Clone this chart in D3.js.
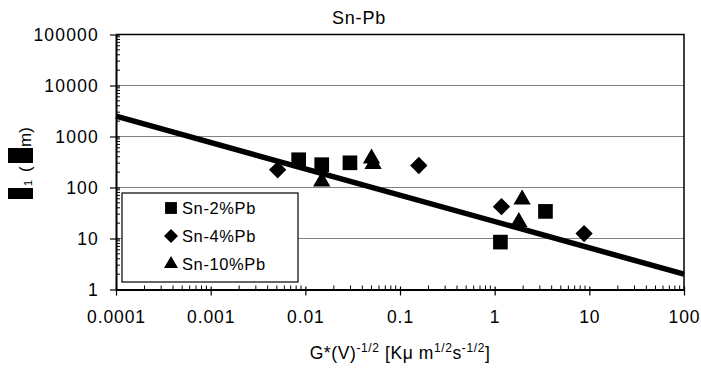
<!DOCTYPE html>
<html>
<head>
<meta charset="utf-8">
<script src="https://cdn.jsdelivr.net/npm/d3@7/dist/d3.min.js"></script>
<style>
	body { margin: 0; background: #fff; }
	svg { font-family: "Liberation Sans", Arial, sans-serif; }
	.axis path, .axis line { stroke: #000; }
</style>
</head>
<body>
<svg id="chart"></svg>
<script>
// tick values
const xTicks = [0.0001, 0.001, 0.01, 0.1, 1, 10, 100]
const yTicks = [1, 10, 100, 1000, 10000, 100000]

// measured points (G*V^-1/2, lambda1)
const sn2 = [
	{x: 0.0085, y: 350}, {x: 0.0149, y: 280}, {x: 0.0296, y: 305},
	{x: 1.15, y: 8.5}, {x: 3.44, y: 34}
]
const sn4 = [
	{x: 0.0051, y: 222}, {x: 0.158, y: 270}, {x: 1.18, y: 42}, {x: 8.8, y: 12.5}
]
const sn10 = [
	{x: 0.0149, y: 131}, {x: 0.05, y: 370}, {x: 0.052, y: 290},
	{x: 1.8, y: 21}, {x: 1.95, y: 58}
]
// fitted trend line
const fit = [{x: 0.0001, y: 2500}, {x: 100, y: 2}]

const diamond = {
	draw(ctx, size) {
		const r = Math.sqrt(size / 2)
		ctx.moveTo(0, -r); ctx.lineTo(r, 0); ctx.lineTo(0, r); ctx.lineTo(-r, 0); ctx.closePath()
	}
}

const series = [
	{name: "Sn-2%Pb", data: sn2, symbol: d3.symbolSquare, size: 215},
	{name: "Sn-4%Pb", data: sn4, symbol: diamond, size: 150},
	{name: "Sn-10%Pb", data: sn10, symbol: d3.symbolTriangle, size: 130},
]

const width = 701, height = 370
const margin = {top: 34.5, right: 17, bottom: 80.5, left: 116}
const plotWidth = width - margin.left - margin.right
const plotHeight = height - margin.top - margin.bottom

const svg = d3.select("#chart").attr("width", width).attr("height", height)

const x = d3.scaleLog().domain([0.0001, 100]).range([0, plotWidth])
const y = d3.scaleLog().domain([1, 100000]).range([plotHeight, 0])

const plot = svg.append("g")
	.attr("transform", "translate(" + margin.left + "," + margin.top + ")")

// gridlines
plot.append("g")
	.selectAll("line")
	.data(yTicks.slice(1, -1))
	.join("line")
	.attr("x1", 0).attr("x2", plotWidth)
	.attr("y1", d => y(d)).attr("y2", d => y(d))
	.attr("stroke", "#808080")
	.attr("stroke-width", 1.2)

// top and right border
plot.append("path")
	.attr("d", "M0," + y(100000) + "H" + plotWidth + "V" + plotHeight)
	.attr("fill", "none")
	.attr("stroke", "#000")
	.attr("stroke-width", 1.5)

// minor ticks (inside)
const minor = (lo, hi) => {
	const out = []
	for (let e = lo; e < hi; e++) for (let k = 2; k <= 9; k++) out.push(k * Math.pow(10, e))
	return out
}
plot.append("g").selectAll("line")
	.data(minor(-4, 2)).join("line")
	.attr("x1", d => x(d)).attr("x2", d => x(d))
	.attr("y1", plotHeight).attr("y2", plotHeight - 4)
	.attr("stroke", "#000")
plot.append("g").selectAll("line")
	.data(minor(0, 5)).join("line")
	.attr("y1", d => y(d)).attr("y2", d => y(d))
	.attr("x1", 0).attr("x2", 4)
	.attr("stroke", "#000")

// axes
const xAxis = plot.append("g")
	.attr("class", "axis axis--x")
	.attr("transform", "translate(0," + plotHeight + ")")
	.call(d3.axisBottom(x).tickValues(xTicks).tickFormat(d => String(d)).tickSizeInner(6).tickSizeOuter(0))
xAxis.select(".domain").attr("stroke-width", 2)
xAxis.selectAll(".tick line").attr("y1", -3).attr("stroke-width", 1.2)
xAxis.selectAll(".tick text")
	.attr("y", 33.5).attr("dy", 0)
	.attr("fill", "#000")
	.style("font-size", "17.5px")
	.style("letter-spacing", "0.9px")

const yAxis = plot.append("g")
	.attr("class", "axis axis--y")
	.call(d3.axisLeft(y).tickValues(yTicks).tickFormat(d => String(d)).tickSizeInner(6).tickSizeOuter(0))
yAxis.select(".domain").attr("stroke-width", 2)
yAxis.selectAll(".tick line").attr("x1", 4).attr("stroke-width", 1.2)
yAxis.selectAll(".tick text")
	.attr("x", -17).attr("dy", "0.36em")
	.attr("fill", "#000")
	.style("font-size", "17.5px")
	.style("letter-spacing", "1.2px")

// trend line
const line = d3.line().x(d => x(d.x)).y(d => y(d.y))
plot.append("path")
	.datum(fit)
	.attr("fill", "none")
	.attr("stroke", "#000")
	.attr("stroke-width", 5.5)
	.attr("d", line)

// markers
series.forEach(s => {
	const sym = d3.symbol().type(s.symbol).size(s.size)
	plot.append("g").selectAll("path")
		.data(s.data).join("path")
		.attr("transform", d => "translate(" + x(d.x) + "," + y(d.y) + ")")
		.attr("d", sym)
		.attr("fill", "#000")
})

// legend
const legend = svg.append("g").attr("transform", "translate(122,193)")
legend.append("rect")
	.attr("width", 176).attr("height", 89)
	.attr("fill", "#fff").attr("stroke", "#000").attr("stroke-width", 1.2)
const items = legend.selectAll("g.item")
	.data(series).join("g")
	.attr("class", "item")
	.attr("transform", (d, i) => "translate(49," + (15 + i * 28) + ")")
items.append("path")
	.attr("d", d => d3.symbol().type(d.symbol).size(d.size * 0.65)())
	.attr("fill", "#000")
items.append("text")
	.attr("x", 11).attr("dy", "0.36em")
	.style("font-size", "16.5px")
	.style("letter-spacing", "0.6px")
	.text(d => d.name)

// title
svg.append("text")
	.attr("x", 359).attr("y", 24)
	.attr("text-anchor", "middle")
	.style("font-size", "18px")
	.style("letter-spacing", "0.8px")
	.text("Sn-Pb")

// x axis title
const xt = svg.append("text")
	.attr("x", 400).attr("y", 359)
	.attr("text-anchor", "middle")
	.style("font-size", "17.5px")
	.style("letter-spacing", "0.6px")
xt.append("tspan").text("G*(V)")
xt.append("tspan").attr("dy", -7).style("font-size", "12px").text("-1/2")
xt.append("tspan").attr("dy", 7).text(" [Kμ m")
xt.append("tspan").attr("dy", -7).style("font-size", "12px").text("1/2")
xt.append("tspan").attr("dy", 7).text("s")
xt.append("tspan").attr("dy", -7).style("font-size", "12px").text("-1/2")
xt.append("tspan").attr("dy", 7).text("]")

// y axis title: the greek glyphs show up as filled boxes in the original
const yt = svg.append("g").attr("transform", "translate(31,0) rotate(-90)")
yt.append("rect").attr("x", -199).attr("y", -23).attr("width", 11).attr("height", 25)
yt.append("text").attr("x", -186).attr("y", 1).style("font-size", "11px").text("1")
yt.append("text").attr("x", -172).style("font-size", "17px").text("(")
yt.append("rect").attr("x", -163).attr("y", -23).attr("width", 15).attr("height", 25)
yt.append("text").attr("x", -147).style("font-size", "17px").text("m)")
</script>
</body>
</html>
